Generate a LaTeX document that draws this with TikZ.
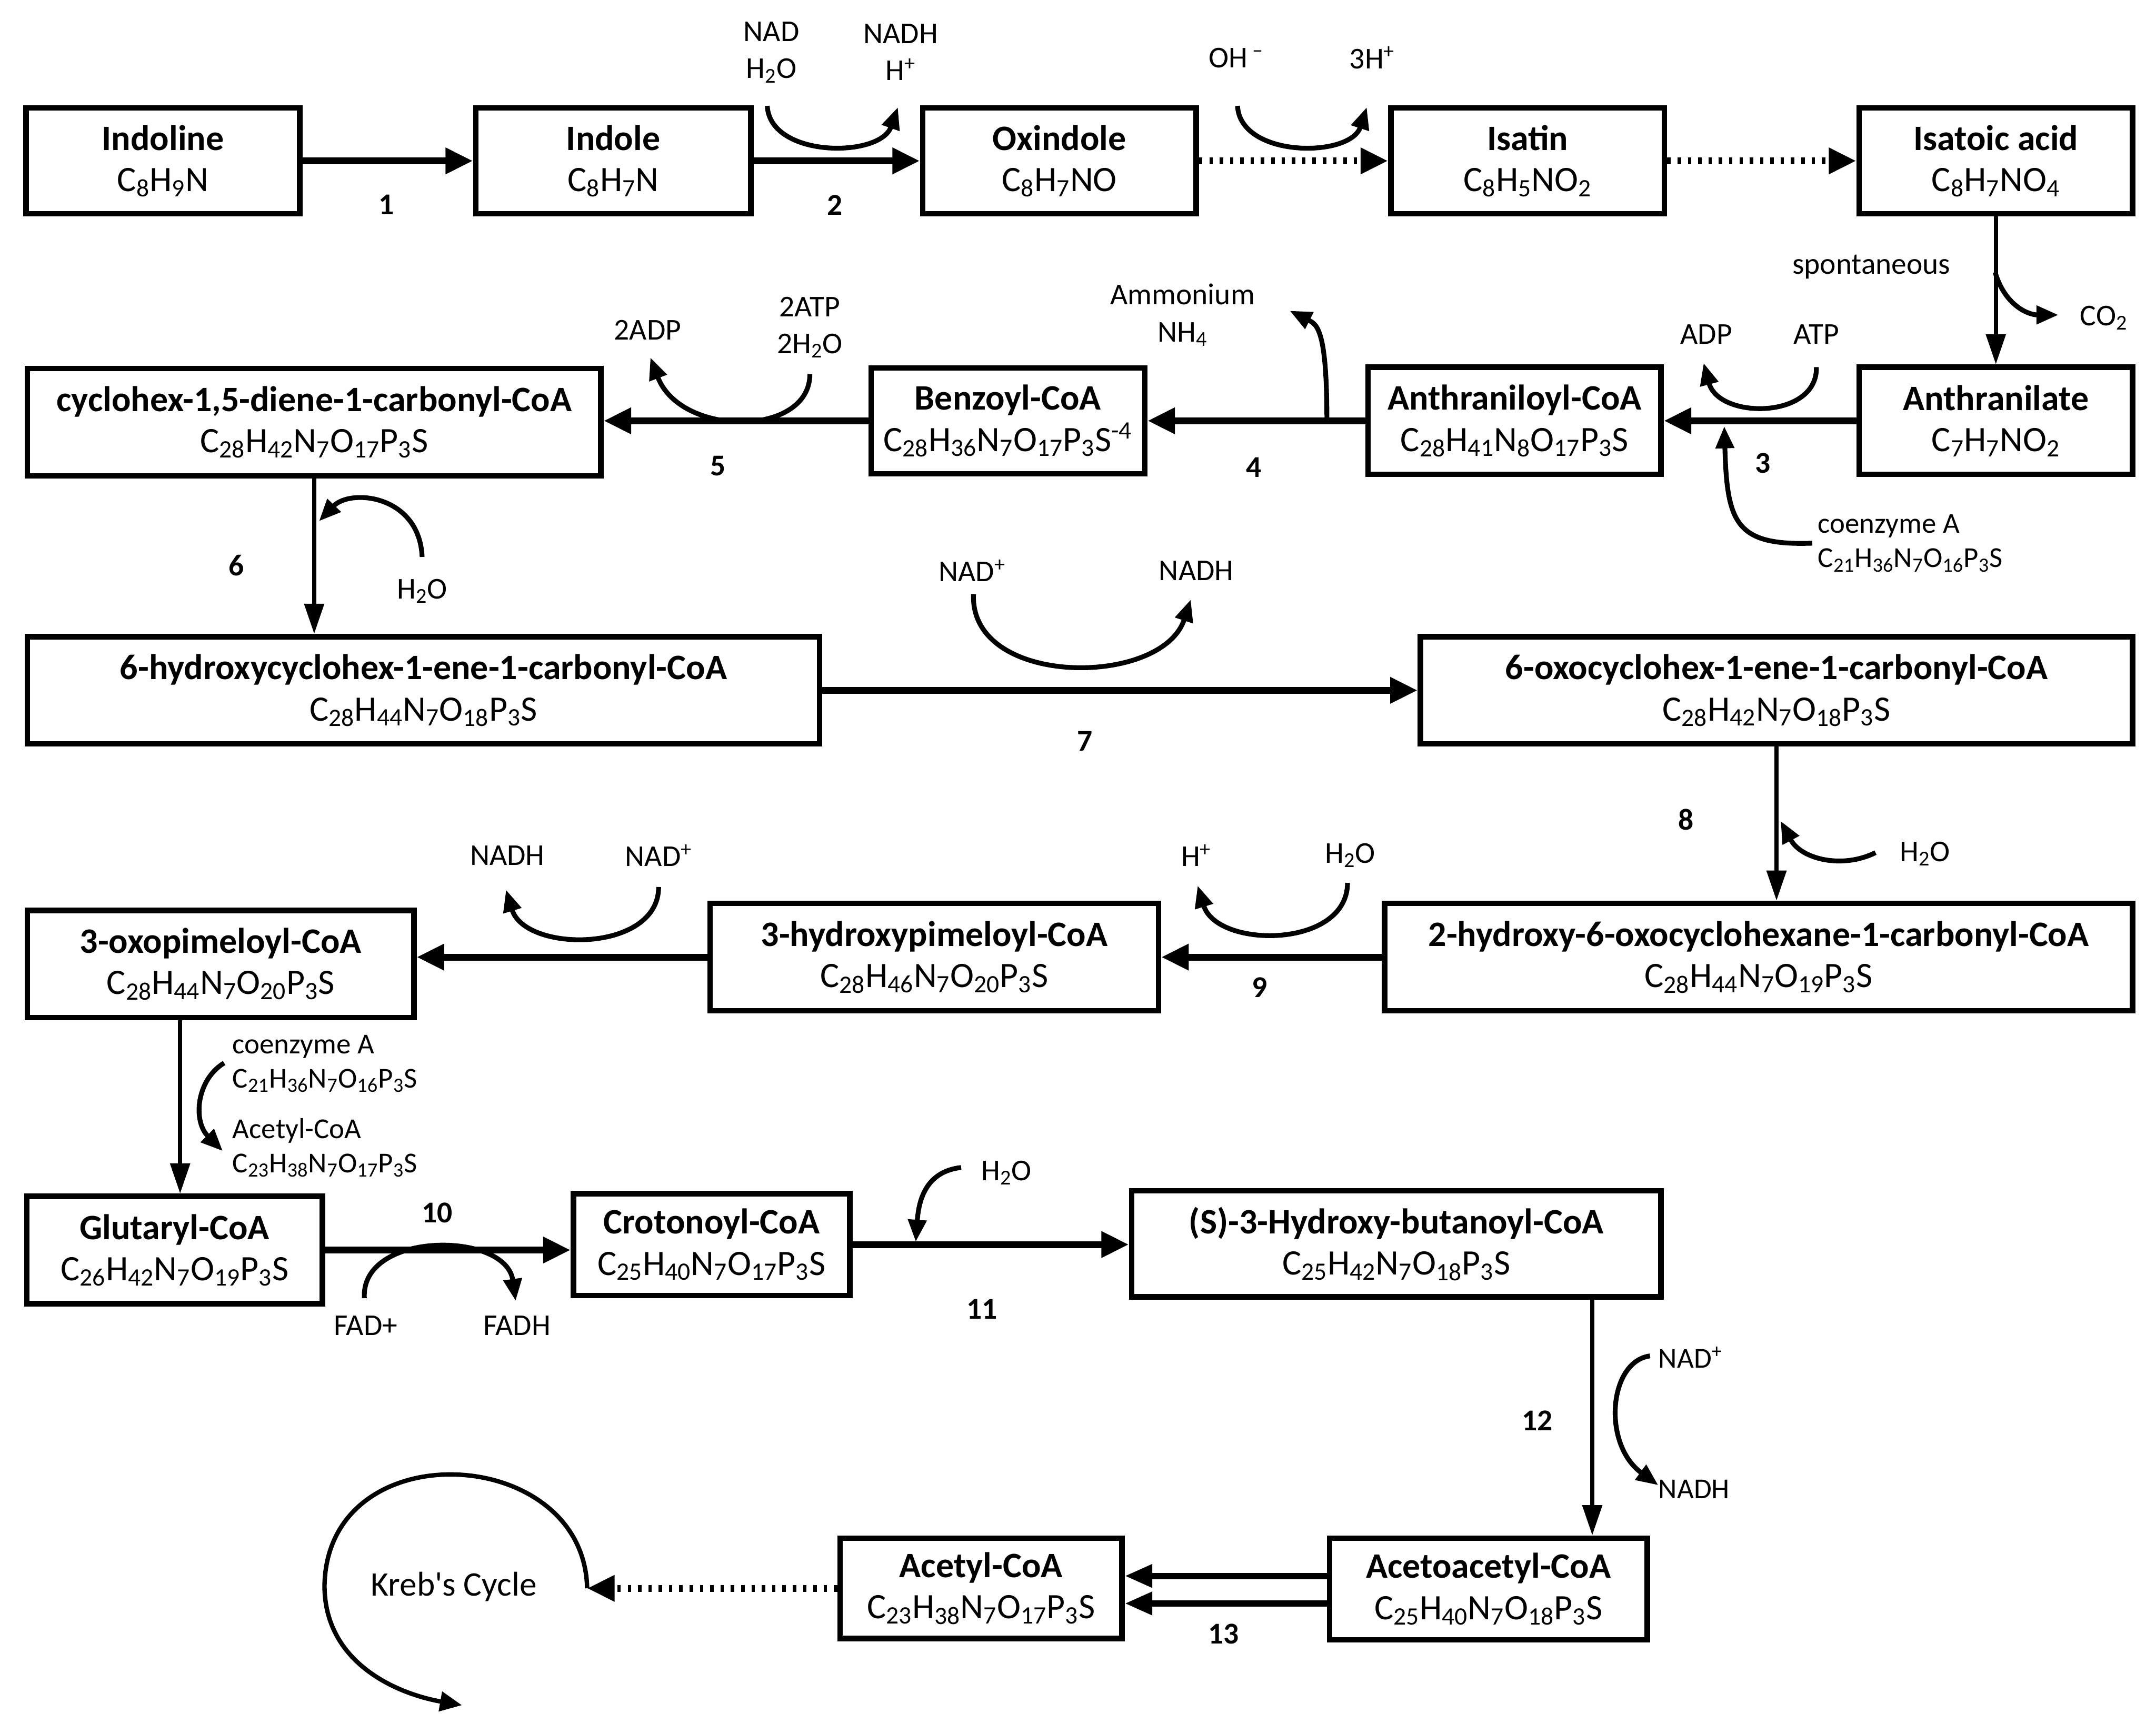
\documentclass[tikz,border=0pt]{standalone}
\usepackage{fontspec}
\setmainfont{Carlito}
\usetikzlibrary{arrows.meta}
\newcommand{\sbs}[1]{\textsubscript{#1}}
\newcommand{\sps}[1]{\textsuperscript{#1}}
\begin{document}
\begin{tikzpicture}[x=1pt,y=-1pt,
  box/.style={draw, line width=4pt, align=center, inner sep=0pt, font=\fontsize{26}{30}\selectfont},
  harr/.style={line width=5pt, -{Triangle[length=20pt,width=18pt]}},
  varr/.style={line width=3pt, -{Triangle[length=22pt,width=14pt]}},
  darr/.style={line width=5pt, dash pattern=on 2.5pt off 5pt, -{Triangle[length=20pt,width=18pt]}},
  carr/.style={line width=3.5pt, -{Triangle[length=16pt,width=13pt]}},
  lbl/.style={font=\fontsize{22}{27}\selectfont, align=center, inner sep=0pt},
  slbl/.style={font=\fontsize{21}{25}\selectfont, align=left, anchor=west, inner sep=0pt},
  num/.style={font=\fontsize{22}{27}\selectfont\bfseries, inner sep=0pt}]
\useasboundingbox (0,0) rectangle (1568,1260);

% ---------- boxes ----------
\node[box, minimum width=199pt, minimum height=77pt] (indoline) at (118.5,117) {\textbf{Indoline}\\C\sbs{8}H\sbs{9}N};
\node[box, minimum width=200pt, minimum height=77pt] (indole) at (446,117) {\textbf{Indole}\\C\sbs{8}H\sbs{7}N};
\node[box, minimum width=199pt, minimum height=77pt] (oxindole) at (770.5,117) {\textbf{Oxindole}\\C\sbs{8}H\sbs{7}NO};
\node[box, minimum width=199pt, minimum height=77pt] (isatin) at (1111,117) {\textbf{Isatin}\\C\sbs{8}H\sbs{5}NO\sbs{2}};
\node[box, minimum width=199pt, minimum height=77pt] (isatoic) at (1451.5,117) {\textbf{Isatoic acid}\\C\sbs{8}H\sbs{7}NO\sbs{4}};

\node[box, minimum width=417pt, minimum height=78pt] (cyclohex) at (228.5,307) {\textbf{cyclohex-1,5-diene-1-carbonyl-CoA}\\C\sbs{28}H\sbs{42}N\sbs{7}O\sbs{17}P\sbs{3}S};
\node[box, minimum width=199pt, minimum height=77pt] (benzoyl) at (733,306) {\textbf{Benzoyl-CoA}\\C\sbs{28}H\sbs{36}N\sbs{7}O\sbs{17}P\sbs{3}S\sps{-4}};
\node[box, minimum width=213pt, minimum height=78pt] (anthraniloyl) at (1101.5,306) {\textbf{Anthraniloyl-CoA}\\C\sbs{28}H\sbs{41}N\sbs{8}O\sbs{17}P\sbs{3}S};
\node[box, minimum width=199pt, minimum height=78pt] (anthranilate) at (1451.5,306) {\textbf{Anthranilate}\\C\sbs{7}H\sbs{7}NO\sbs{2}};

\node[box, minimum width=576pt, minimum height=78pt] (hydroxy6) at (308,502) {\textbf{6-hydroxycyclohex-1-ene-1-carbonyl-CoA}\\C\sbs{28}H\sbs{44}N\sbs{7}O\sbs{18}P\sbs{3}S};
\node[box, minimum width=518pt, minimum height=78pt] (oxo6) at (1292,502) {\textbf{6-oxocyclohex-1-ene-1-carbonyl-CoA}\\C\sbs{28}H\sbs{42}N\sbs{7}O\sbs{18}P\sbs{3}S};

\node[box, minimum width=544pt, minimum height=78pt] (hydroxy2) at (1279,696) {\textbf{2-hydroxy-6-oxocyclohexane-1-carbonyl-CoA}\\C\sbs{28}H\sbs{44}N\sbs{7}O\sbs{19}P\sbs{3}S};
\node[box, minimum width=326pt, minimum height=78pt] (hpim) at (679.5,696) {\textbf{3-hydroxypimeloyl-CoA}\\C\sbs{28}H\sbs{46}N\sbs{7}O\sbs{20}P\sbs{3}S};
\node[box, minimum width=281pt, minimum height=78pt] (opim) at (160.5,701) {\textbf{3-oxopimeloyl-CoA}\\C\sbs{28}H\sbs{44}N\sbs{7}O\sbs{20}P\sbs{3}S};

\node[box, minimum width=215pt, minimum height=78pt] (glut) at (127,909) {\textbf{Glutaryl-CoA}\\C\sbs{26}H\sbs{42}N\sbs{7}O\sbs{19}P\sbs{3}S};
\node[box, minimum width=201pt, minimum height=74pt] (croton) at (517.5,905) {\textbf{Crotonoyl-CoA}\\C\sbs{25}H\sbs{40}N\sbs{7}O\sbs{17}P\sbs{3}S};
\node[box, minimum width=385pt, minimum height=77pt] (s3) at (1015.5,904.5) {\textbf{(S)-3-Hydroxy-butanoyl-CoA}\\C\sbs{25}H\sbs{42}N\sbs{7}O\sbs{18}P\sbs{3}S};

\node[box, minimum width=231pt, minimum height=74pt] (acetoacetyl) at (1082.5,1155.5) {\textbf{Acetoacetyl-CoA}\\C\sbs{25}H\sbs{40}N\sbs{7}O\sbs{18}P\sbs{3}S};
\node[box, minimum width=205pt, minimum height=73pt] (acetyl) at (713.5,1155) {\textbf{Acetyl-CoA}\\C\sbs{23}H\sbs{38}N\sbs{7}O\sbs{17}P\sbs{3}S};

% ---------- labels ----------
\node[lbl] (nadA) at (561,38) {NAD\\H\sbs{2}O};
\node[lbl] (nadhA) at (655,38) {NADH\\H\sps{+}};
\node[lbl] (ohm) at (899,42) {OH\,\sps{–}};
\node[lbl] (h3) at (998,42) {3H\sps{+}};
\node[lbl] (spont) at (1361,194) {spontaneous};
\node[lbl] (co2) at (1530,231) {CO\sbs{2}};
\node[lbl] (adp) at (1241,243) {ADP};
\node[lbl] (atp) at (1321,243) {ATP};
\node[lbl] (amm) at (860,229) {Ammonium\\NH\sbs{4}};
\node[lbl] (adp2) at (471,240) {2ADP};
\node[lbl] (atp2) at (589,238) {2ATP\\2H\sbs{2}O};
\node[slbl] (coa1) at (1322,395) {coenzyme A\\C\sbs{21}H\sbs{36}N\sbs{7}O\sbs{16}P\sbs{3}S};
\node[lbl] (h2o6) at (307,430) {H\sbs{2}O};
\node[lbl] (nad7) at (707,415) {NAD\sps{+}};
\node[lbl] (nadh7) at (870,415) {NADH};
\node[lbl] (h2o8) at (1400,621) {H\sbs{2}O};
\node[lbl] (hp9) at (870,622) {H\sps{+}};
\node[lbl] (h2o9) at (982,622) {H\sbs{2}O};
\node[lbl] (nadhP) at (369,622) {NADH};
\node[lbl] (nadP) at (479,622) {NAD\sps{+}};
\node[slbl] (coa2) at (169,773.5) {coenzyme A\\C\sbs{21}H\sbs{36}N\sbs{7}O\sbs{16}P\sbs{3}S};
\node[slbl] (acoa) at (169,834.5) {Acetyl-CoA\\C\sbs{23}H\sbs{38}N\sbs{7}O\sbs{17}P\sbs{3}S};
\node[lbl] (fad) at (266,964) {FAD+};
\node[lbl] (fadh) at (376,964) {FADH};
\node[lbl] (h2o11) at (732,853) {H\sbs{2}O};
\node[slbl] (nad12) at (1206,987) {NAD\sps{+}};
\node[slbl] (nadh12) at (1206,1083) {NADH};
\node[font=\fontsize{25}{30}\selectfont, inner sep=0pt] (kreb) at (330,1154) {Kreb\textquotesingle s Cycle};

\node[num] (n1) at (281,149) {1};
\node[num] (n2) at (607,149) {2};
\node[num] (n3) at (1282,337) {3};
\node[num] (n4) at (912,340) {4};
\node[num] (n5) at (522,339) {5};
\node[num] (n6) at (172,411) {6};
\node[num] (n7) at (789,539) {7};
\node[num] (n8) at (1226,596) {8};
\node[num] (n9) at (916,718) {9};
\node[num] (n10) at (318,882) {10};
\node[num] (n11) at (714,952) {11};
\node[num] (n12) at (1118,1033) {12};
\node[num] (n13) at (890,1188) {13};

% ---------- main connectors ----------
\draw[harr] (indoline.east) -- (indole.west);
\draw[harr] (indole.east) -- (oxindole.west);
\draw[darr] (oxindole.east) -- (isatin.west);
\draw[darr] (isatin.east) -- (isatoic.west);
\draw[varr] (isatoic.south) -- (anthranilate.north);
\draw[harr] (anthranilate.west) -- (anthraniloyl.east);
\draw[harr] (anthraniloyl.west) -- (benzoyl.east);
\draw[harr] (benzoyl.west) -- (benzoyl.west -| cyclohex.east);
\draw[varr] (cyclohex.south) -- (cyclohex.south |- hydroxy6.north);
\draw[harr] (hydroxy6.east) -- (oxo6.west);
\draw[varr] (oxo6.south) -- (oxo6.south |- hydroxy2.north);
\draw[harr] (hydroxy2.west) -- (hpim.east);
\draw[harr] (hpim.west) -- (hpim.west -| opim.east);
\coordinate (v10) at (131,0);
\draw[varr] (opim.south -| v10) -- (glut.north -| v10);
\draw[harr] (glut.east) -- (glut.east -| croton.west);
\draw[harr] (croton.east) -- (croton.east -| s3.west);
\coordinate (v12) at (1158,0);
\draw[varr] (s3.south -| v12) -- (acetoacetyl.north -| v12);
\draw[line width=4.5pt, -{Triangle[length=20pt,width=16pt]}] ([yshift=9.5pt]acetoacetyl.west) -- ([yshift=9.5pt]acetoacetyl.west -| acetyl.east);
\draw[line width=4.5pt, -{Triangle[length=20pt,width=16pt]}] ([yshift=-10.5pt]acetoacetyl.west) -- ([yshift=-10.5pt]acetoacetyl.west -| acetyl.east);
\coordinate (kin) at (427,1155);
\draw[darr] (acetyl.west) -- (kin);

% ---------- cofactor curves ----------
\coordinate (c2s) at (558,77); \coordinate (c2e) at (653,78);
\draw[carr] (c2s) .. controls (560,115) and (640,115) .. (c2e);
\coordinate (cos) at (900,77); \coordinate (coe) at (994,78);
\draw[carr] (cos) .. controls (902,115) and (982,115) .. (coe);
\coordinate (cco2s) at (1451,198); \coordinate (cco2e) at (1497,229);
\draw[carr] (cco2s) .. controls (1458,222) and (1475,229) .. (cco2e);
\coordinate (c3s) at (1321,267); \coordinate (c3e) at (1239,264);
\draw[carr] (c3s) .. controls (1322,305) and (1250,305) .. (c3e);
\coordinate (c3bs) at (1318,395); \coordinate (c3be) at (1254,310);
\draw[carr] (c3bs) .. controls (1262,397) and (1256,380) .. (c3be);
\coordinate (c4s) at (965,306); \coordinate (c4e) at (938,226);
\draw[carr] (c4s) .. controls (965,240) and (958,236) .. (c4e);
\coordinate (c5s) at (589,272); \coordinate (c5e) at (473,260);
\draw[carr] (c5s) .. controls (589,318) and (495,318) .. (c5e);
\coordinate (c6s) at (307,405); \coordinate (c6e) at (232,379);
\draw[carr] (c6s) .. controls (305,360) and (255,355) .. (c6e);
\coordinate (c7s) at (708,432); \coordinate (c7e) at (866,436);
\draw[carr] (c7s) .. controls (705,500) and (845,500) .. (c7e);
\coordinate (c8s) at (1364,620); \coordinate (c8e) at (1295,597);
\draw[carr] (c8s) .. controls (1340,632) and (1310,625) .. (c8e);
\coordinate (c9s) at (980,642); \coordinate (c9e) at (871,644);
\draw[carr] (c9s) .. controls (980,690) and (885,690) .. (c9e);
\coordinate (cps) at (479,645); \coordinate (cpe) at (368,647);
\draw[carr] (cps) .. controls (479,693) and (382,693) .. (cpe);
\coordinate (cas) at (163,773); \coordinate (cae) at (162,837);
\draw[carr] (cas) .. controls (143,785) and (140,815) .. (cae);
\coordinate (c10s) at (265,944); \coordinate (c10e) at (375,946);
\draw[carr] (c10s) .. controls (262,895) and (368,895) .. (c10e);
\coordinate (c11s) at (699,849); \coordinate (c11e) at (666,903);
\draw[carr] (c11s) .. controls (672,852) and (668,875) .. (c11e);
\coordinate (c12s) at (1200,986); \coordinate (c12e) at (1206,1080);
\draw[carr] (c12s) .. controls (1170,990) and (1165,1050) .. (c12e);

% ---------- Kreb's cycle ----------
\draw[line width=3.2pt, -{Triangle[length=16pt,width=14pt]}] (kin) .. controls (425,1050) and (238,1040) .. (236,1153) .. controls (236,1210) and (290,1232) .. (336,1240);
\end{tikzpicture}
\end{document}
